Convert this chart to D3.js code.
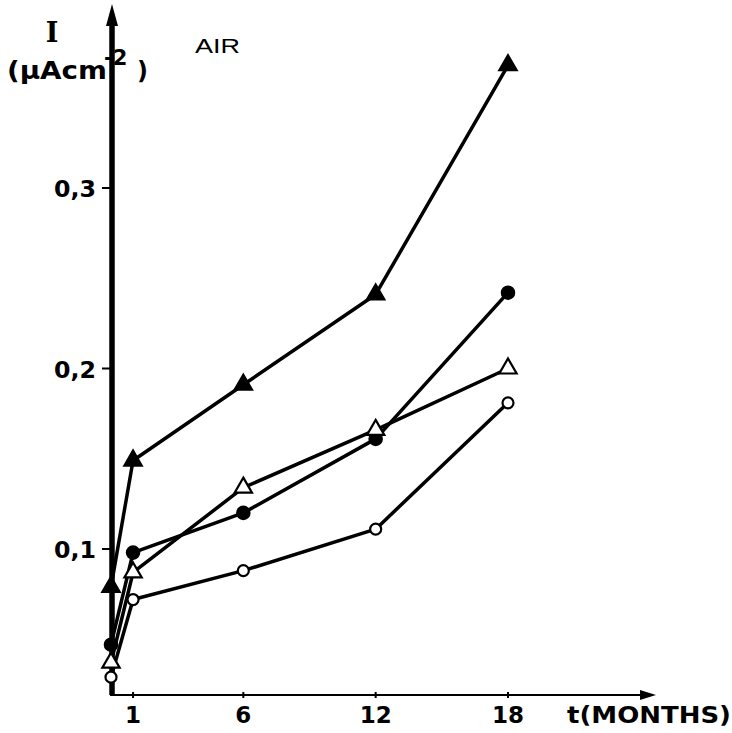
<!DOCTYPE html>
<html><head><meta charset="utf-8">
<script src="https://cdn.jsdelivr.net/npm/d3@7"></script>
<style>html,body{margin:0;padding:0;background:#fff;}svg{display:block;}</style>
</head><body>
<svg id="chart" width="732" height="733"></svg>
<script>
// ---- data ----
const months = [0, 1, 6, 12, 18];
const xTickValues = [1, 6, 12, 18];
const yTickValues = [0.1, 0.2, 0.3];
const yTickLabels = ["0,1", "0,2", "0,3"];
const filledTriangle = [0.079, 0.149, 0.191, 0.241, 0.368];
const filledCircle   = [0.047, 0.098, 0.120, 0.161, 0.242];
const openTriangle   = [0.037, 0.087, 0.134, 0.166, 0.200];
const openCircle     = [0.029, 0.072, 0.088, 0.111, 0.181];

const series = [
  {values: filledTriangle, shape: "triangle", fill: "#000"},
  {values: filledCircle,   shape: "circle",   fill: "#000"},
  {values: openTriangle,   shape: "triangle", fill: "#fff"},
  {values: openCircle,     shape: "circle",   fill: "#fff"}
];

const svg = d3.select("#chart");
const x = d3.scaleLinear().domain([0, 18]).range([111, 508]);
const y = d3.scaleLinear().domain([0.1, 0.3]).range([549, 188]);
const axisY = 695;   // x-axis position (pixel)
const axisX = 112;   // y-axis position (pixel)

// ---- axes ----
svg.append("line").attr("x1", axisX).attr("x2", axisX).attr("y1", axisY).attr("y2", 20)
  .attr("stroke", "#000").attr("stroke-width", 5.5);
svg.append("path").attr("d", `M${axisX},4 L${axisX-6},26 L${axisX+6},26 Z`).attr("fill", "#000");
svg.append("line").attr("x1", axisX - 2).attr("x2", 645).attr("y1", axisY).attr("y2", axisY)
  .attr("stroke", "#000").attr("stroke-width", 2);
svg.append("path").attr("d", `M656,${axisY} L640,${axisY-5} L640,${axisY+5} Z`).attr("fill", "#000");

// y ticks
svg.selectAll(".ytick").data(yTickValues).enter().append("line")
  .attr("x1", axisX - 10).attr("x2", axisX).attr("y1", d => y(d)).attr("y2", d => y(d))
  .attr("stroke", "#000").attr("stroke-width", 2);
svg.selectAll(".ylab").data(yTickValues).enter().append("text")
  .attr("x", 96).attr("y", d => y(d) + 9).attr("text-anchor", "end")
  .attr("font-family", "DejaVu Sans").attr("font-weight", "bold").attr("font-size", 23)
  .attr("textLength", 42).attr("lengthAdjust", "spacingAndGlyphs")
  .text((d, i) => yTickLabels[i]);

// x ticks
svg.selectAll(".xtick").data(xTickValues).enter().append("line")
  .attr("x1", d => x(d)).attr("x2", d => x(d)).attr("y1", axisY - 3).attr("y2", axisY + 3)
  .attr("stroke", "#000").attr("stroke-width", 2);
svg.selectAll(".xlab").data(xTickValues).enter().append("text")
  .attr("x", d => x(d)).attr("y", 723).attr("text-anchor", "middle")
  .attr("font-family", "DejaVu Sans").attr("font-weight", "bold").attr("font-size", 23)
  .text(d => d);

svg.append("text").attr("x", 567).attr("y", 723)
  .attr("font-family", "DejaVu Sans").attr("font-weight", "bold").attr("font-size", 23)
  .attr("textLength", 164).attr("lengthAdjust", "spacingAndGlyphs").text("t(MONTHS)");

// y-axis title
svg.append("text").attr("x", 52).attr("y", 42).attr("text-anchor", "middle")
  .attr("font-family", "DejaVu Serif").attr("font-weight", "bold").attr("font-size", 27).text("I");
svg.append("text").attr("x", 7).attr("y", 79)
  .attr("font-family", "DejaVu Sans").attr("font-weight", "bold").attr("font-size", 24)
  .attr("textLength", 100).attr("lengthAdjust", "spacingAndGlyphs").text("(µAcm");
svg.append("text").attr("x", 104).attr("y", 65)
  .attr("font-family", "DejaVu Sans").attr("font-weight", "bold").attr("font-size", 21).text("-2");
svg.append("text").attr("x", 137).attr("y", 79)
  .attr("font-family", "DejaVu Sans").attr("font-weight", "bold").attr("font-size", 24).text(")");

svg.append("text").attr("x", 195).attr("y", 53)
  .attr("font-family", "Liberation Sans").attr("font-size", 20)
  .attr("textLength", 45).attr("lengthAdjust", "spacingAndGlyphs").text("AIR");

// ---- series ----
const line = d3.line().x((d, i) => x(months[i])).y(d => y(d));
series.forEach(s => {
  svg.append("path").attr("d", line(s.values)).attr("fill", "none")
    .attr("stroke", "#000").attr("stroke-width", 3.5).attr("stroke-linejoin", "round");
});
series.forEach(s => {
  const sym = d3.symbol().type(s.shape === "triangle" ? d3.symbolTriangle : d3.symbolCircle)
    .size(s.shape === "triangle" ? 130 : (s.fill === "#000" ? 120 : 95));
  svg.selectAll(null).data(s.values).enter().append("path")
    .attr("d", sym)
    .attr("transform", (d, i) => `translate(${x(months[i])},${y(d)})`)
    .attr("fill", s.fill).attr("stroke", "#000").attr("stroke-width", 2.2);
});
</script>
</body></html>
